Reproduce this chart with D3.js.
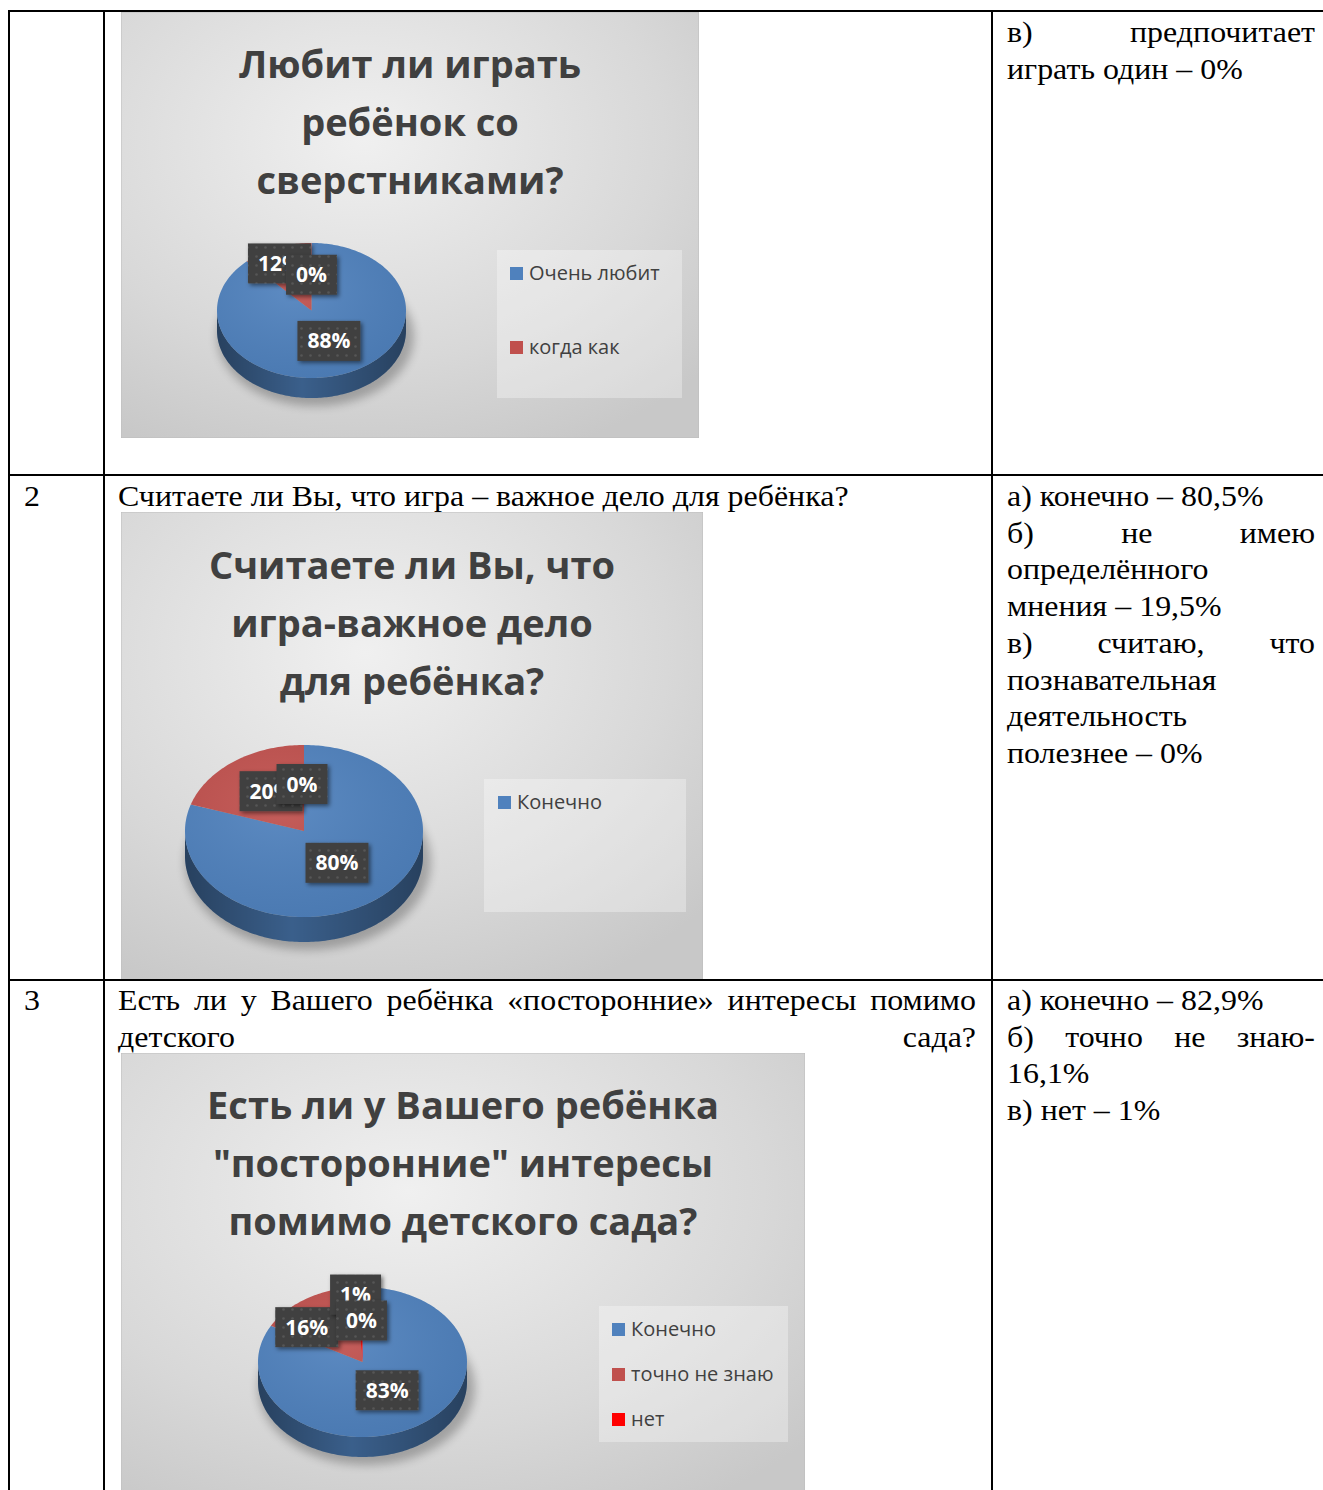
<!DOCTYPE html>
<html>
<head>
<meta charset="utf-8">
<script src="https://cdn.jsdelivr.net/npm/d3@7"></script>
<style>
body { margin: 0; background: #fff; }
svg { display: block; }
.serif { font-family: "Liberation Serif", "Times New Roman", serif; font-size: 28.5px; fill: #000; }
.ttl { font-family: "Open Sans", "Noto Sans", sans-serif; font-weight: 700; font-size: 38px; fill: #404040; text-anchor: middle; }
.lg { font-family: "Open Sans", "Noto Sans", sans-serif; font-size: 20px; fill: #404040; }
.lbl { font-family: "Open Sans", "Noto Sans", sans-serif; font-weight: 700; font-size: 21px; fill: #fff; text-anchor: middle; }
</style>
</head>
<body>
<svg id="page"></svg>
<script>
'use strict';
//Chart data, one set per pie.
const cats1 = ['Очень любит', 'когда как', 'предпочитает играть один'];
const vals1 = [88, 12, 0];
const title1 = ['Любит ли играть', 'ребёнок со', 'сверстниками?'];

const cats2 = ['Конечно', 'не имею определённого мнения', 'познавательная деятельность полезнее'];
const vals2 = [80, 20, 0];
const title2 = ['Считаете ли Вы, что', 'игра-важное дело', 'для ребёнка?'];

const cats3 = ['Конечно', 'точно не знаю', 'нет', 'другое'];
const vals3 = [83, 16, 1, 0];
const title3 = ['Есть ли у Вашего ребёнка', '"посторонние" интересы', 'помимо детского сада?'];

const sliceColors = ['#4f81bd', '#c0504d', '#ff0000', '#9bbb59'];

//Table text. Second item says whether the line is justified.
const q2 = [['Считаете ли Вы, что игра – важное дело для ребёнка?', false]];
const q3 = [['Есть ли у Вашего ребёнка «посторонние» интересы помимо', true], ['детского сада?', true]];
const ans1 = [['в) предпочитает', true], ['играть один – 0%', false]];
const ans2 = [['а) конечно – 80,5%', false], ['б) не имею', true], ['определённого', false],
	['мнения – 19,5%', false], ['в) считаю, что', true], ['познавательная', false],
	['деятельность', false], ['полезнее – 0%', false]];
const ans3 = [['а) конечно – 82,9%', false], ['б) точно не знаю-', true], ['16,1%', false], ['в) нет – 1%', false]];

const W = 1323, H = 1490;
const SX = 1.12; //Horizontal stretch of the document text.
const svg = d3.select('#page').attr('width', W).attr('height', H);
const defs = svg.append('defs');

//Chart background gradient.
const bg = defs.append('radialGradient').attr('id', 'bgGrad')
	.attr('cx', '42%').attr('cy', '30%').attr('r', '80%');
bg.append('stop').attr('offset', '0%').attr('stop-color', '#f0f0f0');
bg.append('stop').attr('offset', '65%').attr('stop-color', '#d8d8d8');
bg.append('stop').attr('offset', '100%').attr('stop-color', '#c8c8c8');

//Shade for the pie walls.
const sh = defs.append('linearGradient').attr('id', 'wallShade')
	.attr('x1', '0%').attr('x2', '100%').attr('y1', '0%').attr('y2', '0%');
sh.append('stop').attr('offset', '0%').attr('stop-color', '#000').attr('stop-opacity', 0.4);
sh.append('stop').attr('offset', '45%').attr('stop-color', '#000').attr('stop-opacity', 0.12);
sh.append('stop').attr('offset', '100%').attr('stop-color', '#000').attr('stop-opacity', 0.4);

//Soft light on the pie top.
const tl = defs.append('radialGradient').attr('id', 'topLight')
	.attr('cx', '40%').attr('cy', '35%').attr('r', '70%');
tl.append('stop').attr('offset', '0%').attr('stop-color', '#fff').attr('stop-opacity', 0.08);
tl.append('stop').attr('offset', '100%').attr('stop-color', '#000').attr('stop-opacity', 0.06);

defs.append('filter').attr('id', 'blur').attr('x', '-30%').attr('y', '-30%').attr('width', '160%').attr('height', '160%')
	.append('feGaussianBlur').attr('stdDeviation', 5);
defs.append('filter').attr('id', 'boxShadow').attr('x', '-20%').attr('y', '-20%').attr('width', '150%').attr('height', '160%')
	.append('feDropShadow').attr('dx', 2).attr('dy', 2).attr('stdDeviation', 2)
	.attr('flood-color', '#000').attr('flood-opacity', 0.5);

//Dotted texture of the data label boxes.
const dots = defs.append('pattern').attr('id', 'dots').attr('patternUnits', 'userSpaceOnUse')
	.attr('width', 9).attr('height', 9);
dots.append('rect').attr('width', 9).attr('height', 9).attr('fill', '#404040');
dots.append('circle').attr('cx', 4.5).attr('cy', 4.5).attr('r', 1.2).attr('fill', '#575757');

//Layout of each chart picture.
const charts = [
	{
		cats: cats1, vals: vals1, title: title1, legN: 2,
		frame: {x: 121, y: 12, w: 578, h: 426},
		tx: 410, ty: [78, 136, 194],
		pie: {cx: 311.5, cy: 310.5, rx: 94.5, ry: 67.5, depth: 20},
		lblF: [0.5, 0.75, 0.5], lblDx: [0, -6, 0], lblDy: [-1, 0, -2],
		leg: {x: 497, y: 250, w: 185, h: 148, ix: 510, iy: [273, 347]}
	},
	{
		cats: cats2, vals: vals2, title: title2, legN: 1,
		frame: {x: 121, y: 512, w: 582, h: 468},
		tx: 412, ty: [579, 637, 695],
		pie: {cx: 304, cy: 831, rx: 119, ry: 86, depth: 25},
		lblF: [0.5, 0.5, 0.5], lblDx: [-2, 2, -2], lblDy: [-3, -5, -4],
		leg: {x: 484, y: 779, w: 202, h: 133, ix: 498, iy: [802]}
	},
	{
		cats: cats3, vals: vals3, title: title3, legN: 3,
		frame: {x: 121, y: 1053, w: 684, h: 460},
		tx: 463, ty: [1119, 1177, 1235],
		pie: {cx: 362.5, cy: 1362, rx: 104.5, ry: 75, depth: 20},
		lblF: [0.5, 0.55, 0.9, 0.5], lblDx: [-2, -25, -4, -1], lblDy: [-4, 0, 0, -4],
		leg: {x: 599, y: 1306, w: 189, h: 136, ix: 612, iy: [1329, 1374, 1419]}
	}
];

const pie = d3.pie().sort(null).value(d => d);

//Point on the pie rim; angle 0 is 12 o'clock, clockwise.
function rim(g, a, dy) {
	return [g.cx + g.rx * Math.sin(a), g.cy - g.ry * Math.cos(a) + (dy || 0)];
}
function arcPts(g, a0, a1, dy) {
	const n = Math.max(2, Math.ceil(Math.abs(a1 - a0) / 0.02));
	return d3.range(n + 1).map(i => rim(g, a0 + (a1 - a0) * i / n, dy));
}
function topPath(g, a0, a1) {
	return 'M' + [[g.cx, g.cy]].concat(arcPts(g, a0, a1)).join('L') + 'Z';
}
//Visible front wall of the slice between a0 and a1.
function wallPath(g, a0, a1) {
	const s = Math.max(a0, Math.PI / 2), e = Math.min(a1, 1.5 * Math.PI);
	if (e <= s) return null;
	return 'M' + arcPts(g, s, e).concat(arcPts(g, e, s, g.depth)).join('L') + 'Z';
}

charts.forEach((c, ci) => {
	const gc = svg.append('g');
	const f = c.frame;
	const clipId = 'clip' + ci;
	defs.append('clipPath').attr('id', clipId)
		.append('rect').attr('x', f.x).attr('y', f.y).attr('width', f.w).attr('height', f.h);
	const g = gc.append('g').attr('clip-path', `url(#${clipId})`);
	g.append('rect')
		.attr('x', f.x).attr('y', f.y).attr('width', f.w).attr('height', f.h)
		.attr('fill', 'url(#bgGrad)')
		.attr('stroke', '#bdbdbd').attr('stroke-width', 1);

	//Title.
	g.selectAll('text.ttl').data(c.title).enter().append('text')
		.attr('class', 'ttl')
		.attr('x', c.tx)
		.attr('y', (d, i) => c.ty[i])
		.text(d => d);

	//Legend.
	const L = c.leg;
	g.append('rect').attr('x', L.x).attr('y', L.y).attr('width', L.w).attr('height', L.h)
		.attr('fill', '#ffffff').attr('fill-opacity', 0.32);
	const items = c.cats.slice(0, c.legN);
	const li = g.selectAll('g.li').data(items).enter().append('g').attr('class', 'li');
	li.append('rect')
		.attr('x', L.ix).attr('y', (d, i) => L.iy[i] - 6)
		.attr('width', 13).attr('height', 13)
		.attr('fill', (d, i) => sliceColors[i]);
	li.append('text').attr('class', 'lg')
		.attr('x', L.ix + 19).attr('y', (d, i) => L.iy[i])
		.attr('dy', '0.35em')
		.text(d => d);

	//3D pie.
	const p = c.pie;
	const arcs = pie(c.vals);
	g.append('ellipse')
		.attr('cx', p.cx + 4).attr('cy', p.cy + p.depth + 6)
		.attr('rx', p.rx + 4).attr('ry', p.ry + 2)
		.attr('fill', '#000').attr('opacity', 0.25)
		.attr('filter', 'url(#blur)');
	arcs.forEach((a, i) => {
		const d = wallPath(p, a.startAngle, a.endAngle);
		if (d) g.append('path').attr('d', d)
			.attr('fill', d3.color(sliceColors[i]).darker(0.5));
	});
	g.append('path').attr('d', wallPath(p, 0, 2 * Math.PI)).attr('fill', 'url(#wallShade)');
	arcs.forEach((a, i) => {
		if (a.endAngle - a.startAngle <= 0) return;
		g.append('path').attr('d', topPath(p, a.startAngle, a.endAngle))
			.attr('fill', sliceColors[i]);
	});
	g.append('ellipse').attr('cx', p.cx).attr('cy', p.cy).attr('rx', p.rx).attr('ry', p.ry)
		.attr('fill', 'url(#topLight)');

	//Data labels at the slice centroids.
	const total = d3.sum(c.vals);
	arcs.forEach((a, i) => {
		const mid = (a.startAngle + a.endAngle) / 2;
		const k = c.lblF[i];
		const x = p.cx + k * p.rx * Math.sin(mid) + c.lblDx[i];
		const y = p.cy - k * p.ry * Math.cos(mid) + c.lblDy[i];
		const lg = g.append('g');
		const box = lg.append('rect').attr('fill', 'url(#dots)').attr('filter', 'url(#boxShadow)');
		const t = lg.append('text').attr('class', 'lbl')
			.attr('x', x).attr('y', y).attr('dy', '0.36em')
			.text(d3.format('.0%')(a.value / total));
		const tw = t.node().getComputedTextLength();
		box.attr('x', x - tw / 2 - 10).attr('y', y - 20).attr('width', tw + 20).attr('height', 40);
	});
});

//Table text, stretched a little as in the scanned page.
function serifText(str, x, y) {
	return svg.append('text').attr('class', 'serif')
		.attr('transform', `translate(${x},${y}) scale(${SX},1)`)
		.text(str);
}
function writeLines(lines, x0, x1, y0, step) {
	lines.forEach(([str, just], li) => {
		const y = y0 + li * step;
		if (!just) {
			serifText(str, x0, y);
			return;
		}
		const words = str.split(' ');
		const ts = words.map(w => serifText(w, 0, y));
		const ws = ts.map(t => t.node().getComputedTextLength() * SX);
		const gap = words.length > 1 ? (x1 - x0 - d3.sum(ws)) / (words.length - 1) : 0;
		let x = x0;
		ts.forEach((t, i) => {
			t.attr('transform', `translate(${x},${y}) scale(${SX},1)`);
			x += ws[i] + gap;
		});
	});
}
serifText('2', 24, 506);
serifText('3', 24, 1010);
writeLines(q2, 118, 976, 506, 36.7);
writeLines(q3, 118, 976, 1010, 36.7);
writeLines(ans1, 1007, 1315, 42, 36.7);
writeLines(ans2, 1007, 1315, 506, 36.7);
writeLines(ans3, 1007, 1315, 1010, 36.7);

//Table rules.
const hLines = [11, 475, 980];
const vLines = [9, 104, 992];
svg.selectAll('line.h').data(hLines).enter().append('line')
	.attr('x1', 8).attr('x2', W).attr('y1', d => d).attr('y2', d => d)
	.attr('stroke', '#000').attr('stroke-width', 2);
svg.selectAll('line.v').data(vLines).enter().append('line')
	.attr('x1', d => d).attr('x2', d => d).attr('y1', 10).attr('y2', H)
	.attr('stroke', '#000').attr('stroke-width', 2);
</script>
</body>
</html>
